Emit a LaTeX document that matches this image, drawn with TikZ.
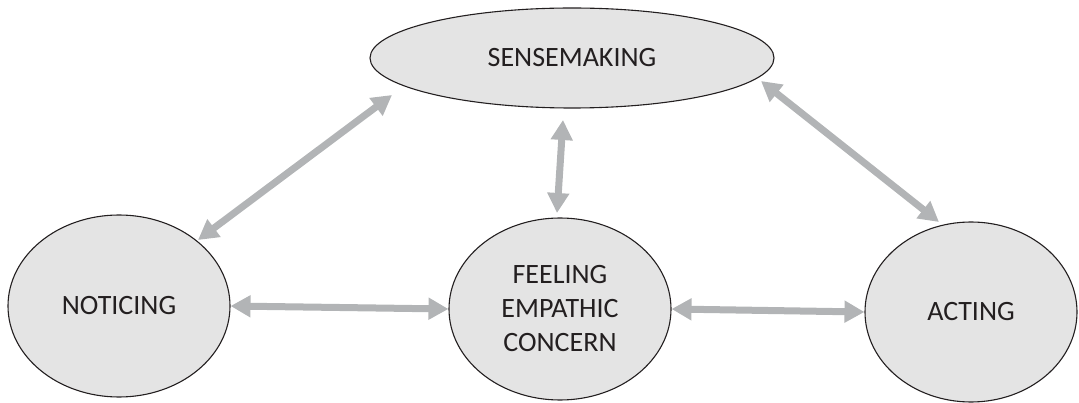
\documentclass[tikz,border=0pt]{standalone}
\usepackage{fontspec}
\setmainfont{Carlito}
\usetikzlibrary{shapes.geometric,arrows.meta,calc}
\definecolor{arrowgray}{HTML}{B2B4B6}
\definecolor{ellfill}{HTML}{E4E4E4}
\definecolor{ellline}{HTML}{231F20}
\begin{document}
\begin{tikzpicture}[x=1pt,y=-1pt,
  stage/.style={ellipse, draw=ellline, line width=1.1pt, fill=ellfill, inner sep=0pt,
    font=\fontsize{28}{34}\selectfont, text=ellline, align=center},
  link/.style={arrowgray, line width=7pt,
    {Triangle[length=20pt,width=21pt]}-{Triangle[length=20pt,width=21pt]}}]
\useasboundingbox (0,0) rectangle (1079,403);
\node[stage, minimum width=404pt, minimum height=100pt] (sense) at (572,58) {SENSEMAKING};
\node[stage, minimum width=222pt, minimum height=182pt] (notice) at (119,306) {NOTICING};
\node[stage, minimum width=222pt, minimum height=182pt] (feel) at (560,309) {FEELING\\EMPATHIC\\CONCERN};
\node[stage, minimum width=212pt, minimum height=180pt] (act) at (971,312) {ACTING};
\draw[link] ($(sense.center)+(-180,37)$) -- ($(notice.center)+(79,-66)$);
\draw[link] ($(sense.center)+(-9,62)$) -- ($(feel.center)+(-3,-96)$);
\draw[link] ($(sense.center)+(189,23)$) -- ($(act.center)+(-32,-90)$);
\draw[link] (notice.east) -- (feel.west);
\draw[link] (feel.east) -- (act.west);
\end{tikzpicture}
\end{document}
